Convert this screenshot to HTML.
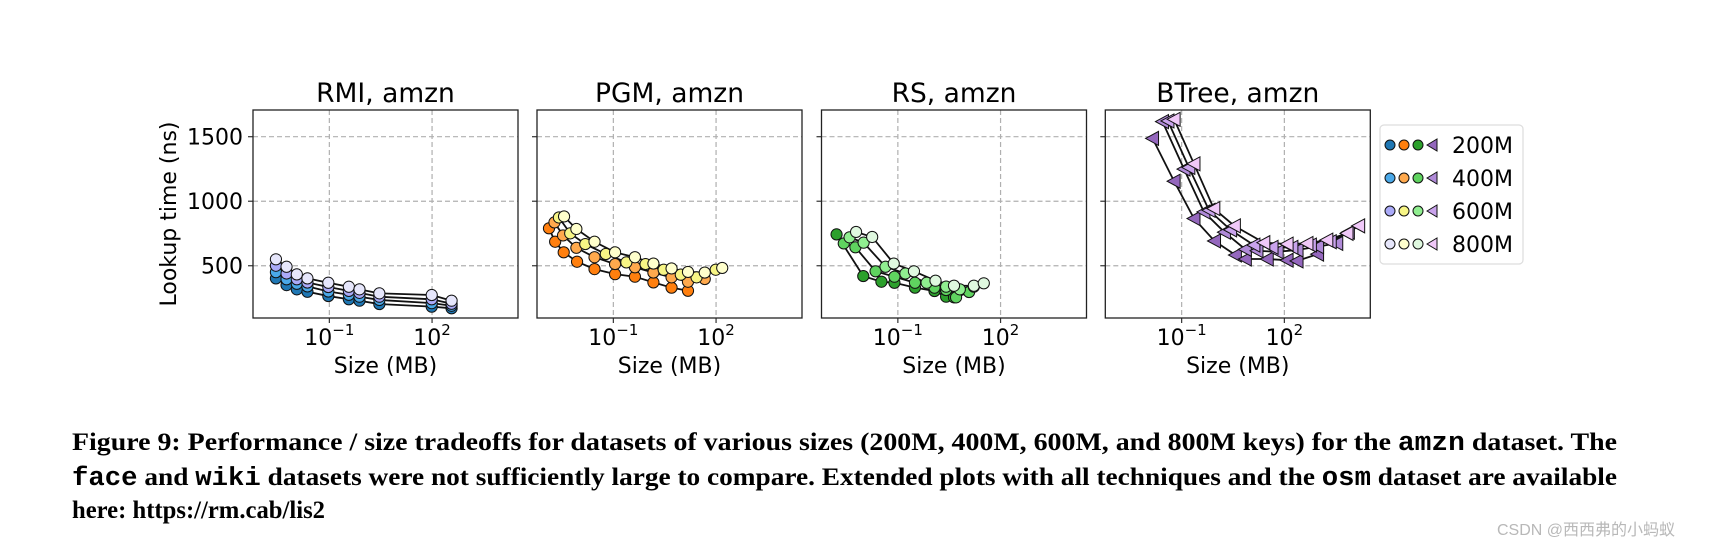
<!DOCTYPE html>
<html><head><meta charset="utf-8"><style>
body{margin:0;background:#fff;width:1713px;height:548px;overflow:hidden;position:relative}
svg{position:absolute;left:0;top:0}
</style></head><body>
<svg id="fig" width="1713" height="548">
<g font-family="'Liberation Serif',serif" font-weight="bold" font-size="25.5">
<text x="72" y="450" textLength="1545" lengthAdjust="spacingAndGlyphs">Figure 9: Performance / size tradeoffs for datasets of various sizes (200M, 400M, 600M, and 800M keys) for the <tspan font-family="'Liberation Mono',monospace">amzn</tspan> dataset. The</text>
<text x="72" y="485" textLength="1545" lengthAdjust="spacingAndGlyphs"><tspan font-family="'Liberation Mono',monospace">face</tspan> and <tspan font-family="'Liberation Mono',monospace">wiki</tspan> datasets were not sufficiently large to compare. Extended plots with all techniques and the <tspan font-family="'Liberation Mono',monospace">osm</tspan> dataset are available</text>
<text x="72" y="518" textLength="253" lengthAdjust="spacingAndGlyphs">here: https://rm.cab/lis2</text>
</g>
<text x="1497" y="535" font-family="'Liberation Sans','Noto Sans CJK SC',sans-serif" font-size="16" fill="#b8b8b8">CSDN @西西弗的小蚂蚁</text>
</svg>
<script>
const panelTitles=["RMI, amzn","PGM, amzn","RS, amzn","BTree, amzn"];
const seriesNames=["200M","400M","600M","800M"];
const yTicks=[500,1000,1500];
const xTicks=[-1,2];
// log10(size MB) and lookup ns, per panel per series
const rmiX=[[-2.56,-2.25,-1.95,-1.64,-1.03,-0.43,-0.12,0.46,1.99,2.57],[-2.56,-2.25,-1.95,-1.64,-1.03,-0.43,-0.12,0.46,1.99,2.57],[-2.56,-2.25,-1.95,-1.64,-1.03,-0.43,-0.12,0.46,1.99,2.57],[-2.56,-2.25,-1.95,-1.64,-1.03,-0.43,-0.12,0.46,1.99,2.57]];
const rmiY=[[402,350,317,298,265,240,229,203,183,170],[450,395,360,340,300,275,260,235,210,190],[500,440,395,370,335,305,290,260,240,205],[550,492,433,402,368,337,317,286,273,229]];
const pgmX=[[-2.88,-2.70,-2.45,-2.06,-1.55,-0.95,-0.37,0.17,0.70,1.18],[-2.72,-2.47,-2.08,-1.55,-0.95,-0.37,0.17,0.70,1.18,1.67],[-2.59,-2.26,-1.82,-1.22,-0.62,-0.06,0.47,0.97,1.43,1.99],[-2.44,-2.08,-1.55,-0.95,-0.37,0.17,0.70,1.18,1.67,2.18]];
const pgmY=[[790,686,604,531,474,435,415,371,330,306],[836,735,639,566,513,488,447,410,376,397],[874,751,668,591,526,513,469,431,410,469],[882,785,686,604,566,517,479,452,447,483]];
const rsX=[[-2.79,-2.01,-1.48,-1.10,-0.50,0.07,0.41,0.64],[-2.58,-2.24,-1.65,-1.10,-0.50,0.07,0.41,0.70,1.08],[-2.41,-2.0,-1.36,-0.78,-0.16,0.41,0.81,1.22],[-2.22,-1.75,-1.12,-0.53,0.10,0.64,1.22,1.51]];
const rsY=[[743,420,376,368,330,304,260,255],[673,643,457,415,368,330,312,255,296],[720,679,492,440,368,338,317,338],[762,723,517,457,384,345,345,364]];
const btX=[[-1.85,-1.22,-0.64,-0.04,0.57,0.86,1.50,2.08,2.37,2.97],[-1.56,-0.93,-0.35,0.25,0.86,1.20,1.79,2.37,2.97,3.53],[-1.40,-0.79,-0.20,0.43,1.11,1.64,2.22,2.76,3.34,3.87],[-1.22,-0.64,-0.06,0.54,1.40,2.08,2.66,3.24,3.83,4.17]];
const btY=[[1487,1155,866,692,583,552,552,543,537,590],[1617,1249,917,760,627,616,608,622,648,673],[1622,1262,930,778,660,643,643,660,686,760],[1635,1290,943,809,679,668,673,699,751,809]];
const panelX=[rmiX,pgmX,rsX,btX], panelY=[rmiY,pgmY,rsY,btY];
const colors=[["#1f77b4","#4aa8e8","#aaaaf8","#e6e6fb"],["#ff7f0e","#ffa94d","#f7f585","#ffffcc"],["#2ca02c","#5fd35f","#90ee90","#dff8df"],["#9467bd","#b08ad8","#c9a3ec","#f0c8f8"]];
const lefts=[253,537,821.5,1105.3], W=265, TOP=110, BOT=318;
const XMIN=-3.23,XMAX=4.51,YMIN=95,YMAX=1707;
const NS="http://www.w3.org/2000/svg", svg=document.getElementById('fig');
function mk(t,a,p){const e=document.createElementNS(NS,t);for(const k in a)e.setAttribute(k,a[k]);(p||svg).appendChild(e);return e;}
const F='"DejaVu Sans","Liberation Sans",sans-serif';
function yS(v){return BOT-(v-YMIN)/(YMAX-YMIN)*(BOT-TOP);}
panelTitles.forEach((title,pi)=>{
  const L=lefts[pi]; const xS=v=>L+(v-XMIN)/(XMAX-XMIN)*W;
  const g=mk('g',{});
  
  
  const t=mk('text',{x:L+W/2,y:102,'text-anchor':'middle','font-family':F,'font-size':26.5},g);t.textContent=title;
  
  yTicks.forEach(v=>{const y=yS(v);
    const gl=mk('line',{x1:L,x2:L+W,y1:y,y2:y,stroke:'#b0b0b0','stroke-width':1.2,'stroke-dasharray':'5,3'},g);
    
    mk('line',{x1:L-5,x2:L,y1:y,y2:y,stroke:'#333','stroke-width':1.2},g);
    if(pi===0){const tl=mk('text',{x:L-10,y:y+8,'text-anchor':'end','font-family':F,'font-size':22},g);tl.textContent=v;
      }
  });
  xTicks.forEach(v=>{const x=xS(v);
    const gl=mk('line',{x1:x,x2:x,y1:TOP,y2:BOT,stroke:'#b0b0b0','stroke-width':1.2,'stroke-dasharray':'5,3'},g);
    
    mk('line',{x1:x,x2:x,y1:BOT,y2:BOT+5,stroke:'#333','stroke-width':1.2},g);
    const tl=mk('text',{x:x,y:345,'text-anchor':'middle','font-family':F,'font-size':22},g);
    
    const a=mk('tspan',{},tl);a.textContent='10';const b=mk('tspan',{dy:-10,'font-size':15},tl);b.textContent=(v<0?'\u2212':'')+Math.abs(v);
  });
  const xl=mk('text',{x:L+W/2,y:373,'text-anchor':'middle','font-family':F,'font-size':22},g);xl.textContent='Size (MB)';
  
  panelX[pi].forEach((xs,si)=>{
    const ys=panelY[pi][si];
    const pl=mk('polyline',{points:xs.map((x,i)=>xS(x)+','+yS(ys[i])).join(' '),fill:'none',stroke:'#111','stroke-width':1.8},g);
    
  });
  panelX[pi].forEach((xs,si)=>{
    const ys=panelY[pi][si];
    xs.forEach((x,i)=>{const cx=xS(x),cy=yS(ys[i]);let m;
      if(pi===3) m=mk('polygon',{points:`${cx-7},${cy} ${cx+6},${cy-7} ${cx+6},${cy+7}`,fill:colors[pi][si],stroke:'#111','stroke-width':1},g);
      else m=mk('circle',{cx:cx,cy:cy,r:5.6,fill:colors[pi][si],stroke:'#111','stroke-width':1},g);
      
    });
  });
  const fr=mk('rect',{x:L,y:TOP,width:W,height:BOT-TOP,fill:'none',stroke:'#222','stroke-width':1.3},g);
  
});
const yl=mk('text',{x:0,y:0,transform:'translate(176,214) rotate(-90)','text-anchor':'middle','font-family':F,'font-size':22});yl.textContent='Lookup time (ns)';

const lg=mk('g',{});

mk('rect',{x:1380,y:125,width:143,height:139,rx:4,fill:'#fff',stroke:'#ddd','stroke-width':1.2},lg);
seriesNames.forEach((n,si)=>{const y=144+si*33;
  const e=mk('g',{},lg);
  
  for(let k=0;k<3;k++)mk('circle',{cx:1390+k*14,cy:y+1,r:5,fill:colors[k][si],stroke:'#111','stroke-width':1},e);
  mk('polygon',{points:`${1427},${y+1} ${1437},${y-5} ${1437},${y+7}`,fill:colors[3][si],stroke:'#111','stroke-width':1},e);
  const t=mk('text',{x:1452,y:y+9,'font-family':F,'font-size':22},e);t.textContent=n;
});
</script>
</body></html>
